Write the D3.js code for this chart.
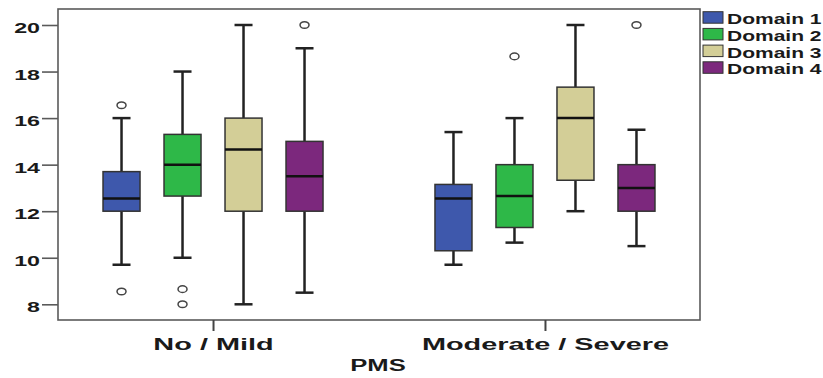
<!DOCTYPE html>
<html><head><meta charset="utf-8">
<script src="https://cdn.jsdelivr.net/npm/d3@7"></script>
<style>
html,body{margin:0;padding:0;background:#fff;}
svg{display:block;}
text{font-family:"Liberation Sans",Arial,sans-serif;font-weight:bold;fill:#1a1a1a;}
</style></head>
<body>
<svg id="chart" width="823" height="378"></svg>
<script>
// ---- data ----
const categories = ["No / Mild", "Moderate / Severe"];
const series = ["Domain 1", "Domain 2", "Domain 3", "Domain 4"];
const colors = ["#3E58AC", "#2EB848", "#D3CE97", "#7C287D"];
const yTicks = [8, 10, 12, 14, 16, 18, 20];
// [series][category]
const whiskerLow  = [[9.7, 9.7],  [10, 10.65],   [8, 12],     [8.5, 10.5]];
const q1          = [[12, 10.3],  [12.65, 11.3], [12, 13.33], [12, 12]];
const median      = [[12.55, 12.55], [14, 12.65], [14.65, 16], [13.5, 13]];
const q3          = [[13.7, 13.15], [15.3, 14],  [16, 17.33], [15, 14]];
const whiskerHigh = [[16, 15.4],  [18, 16],      [20, 20],    [19, 15.5]];
const outliers    = [[[16.55, 8.55], []], [[8.65, 8], [18.65]], [[], []], [[20], [20]]];
const xTitle = "PMS";

// ---- layout ----
const frame = {left: 58, right: 700, top: 9, bottom: 320};
const svg = d3.select("#chart");

const x = d3.scalePoint().domain(categories).range([frame.left, frame.right]).padding(0.467);
const xs = d3.scaleBand().domain(series).range([-122, 122]);
const y = d3.scaleLinear().domain([8, 20]).range([304.3, 25]);
const boxW = 37, capW = 18;

function stretch(sel, k) {
  sel.each(function () {
    const w = this.getComputedTextLength();
    d3.select(this).attr("textLength", w * k).attr("lengthAdjust", "spacingAndGlyphs");
  });
}

// frame
svg.append("rect")
  .attr("x", frame.left).attr("y", frame.top)
  .attr("width", frame.right - frame.left).attr("height", frame.bottom - frame.top)
  .attr("fill", "#fff").attr("stroke", "#5a5a5a").attr("stroke-width", 1.6);

// y axis
const yAxis = svg.append("g").attr("transform", `translate(${frame.left},0)`)
  .call(d3.axisLeft(y).tickValues(yTicks).tickSize(16).tickPadding(2).tickFormat(d3.format("d")));
yAxis.select(".domain").remove();
yAxis.selectAll(".tick line").attr("stroke", "#5a5a5a").attr("stroke-width", 1.6);
yAxis.selectAll(".tick text").attr("font-size", 15.5).attr("dy", "0.48em")
  .style("font-family", '"Liberation Sans",Arial,sans-serif').style("font-weight", "bold").attr("fill", "#1a1a1a")
  .call(stretch, 1.5);

// x axis ticks + labels
const xAxis = svg.append("g").attr("transform", `translate(0,${frame.bottom})`)
  .call(d3.axisBottom(x).tickSize(11).tickPadding(3));
xAxis.select(".domain").remove();
xAxis.selectAll(".tick line").attr("stroke", "#444").attr("stroke-width", 2);
xAxis.selectAll(".tick text").attr("font-size", 16.5).attr("dy", "0.95em")
  .style("font-family", '"Liberation Sans",Arial,sans-serif').style("font-weight", "bold").attr("fill", "#1a1a1a")
  .call(stretch, 1.75);

svg.append("text").attr("x", (frame.left + frame.right) / 2 - 1).attr("y", 371)
  .attr("text-anchor", "middle").attr("font-size", 16).text(xTitle).call(stretch, 1.6);

// boxes
series.forEach((s, si) => {
  categories.forEach((c, ci) => {
    const cx = x(c) + xs(s) + xs.bandwidth() / 2;
    const g = svg.append("g");
    const wl = whiskerLow[si][ci], wh = whiskerHigh[si][ci];
    const b1 = q1[si][ci], b3 = q3[si][ci], md = median[si][ci];
    // whiskers
    g.append("line").attr("x1", cx).attr("x2", cx).attr("y1", y(wh)).attr("y2", y(b3))
      .attr("stroke", "#222").attr("stroke-width", 2.5);
    g.append("line").attr("x1", cx).attr("x2", cx).attr("y1", y(b1)).attr("y2", y(wl))
      .attr("stroke", "#222").attr("stroke-width", 2.5);
    [wl, wh].forEach(v => g.append("line")
      .attr("x1", cx - capW / 2).attr("x2", cx + capW / 2).attr("y1", y(v)).attr("y2", y(v))
      .attr("stroke", "#222").attr("stroke-width", 2.5));
    // box
    g.append("rect").attr("x", cx - boxW / 2).attr("width", boxW)
      .attr("y", y(b3)).attr("height", y(b1) - y(b3))
      .attr("fill", colors[si]).attr("stroke", "#333").attr("stroke-width", 1.5);
    g.append("line").attr("x1", cx - boxW / 2).attr("x2", cx + boxW / 2).attr("y1", y(md)).attr("y2", y(md))
      .attr("stroke", "#111").attr("stroke-width", 2.5);
    // outliers
    outliers[si][ci].forEach(v => g.append("ellipse").attr("cx", cx).attr("cy", y(v))
      .attr("rx", 4.5).attr("ry", 3.3).attr("fill", "#fff").attr("stroke", "#444").attr("stroke-width", 1.5));
  });
});

// legend
const lg = svg.append("g");
series.forEach((s, i) => {
  const top = 11.7 + i * 16.7;
  lg.append("rect").attr("x", 703).attr("y", top).attr("width", 20).attr("height", 11.5)
    .attr("fill", colors[i]).attr("stroke", "#333").attr("stroke-width", 1);
  lg.append("text").attr("x", 727).attr("y", top + 12.5).attr("font-size", 14).text(s).call(stretch, 1.5);
});
</script>
</body></html>
